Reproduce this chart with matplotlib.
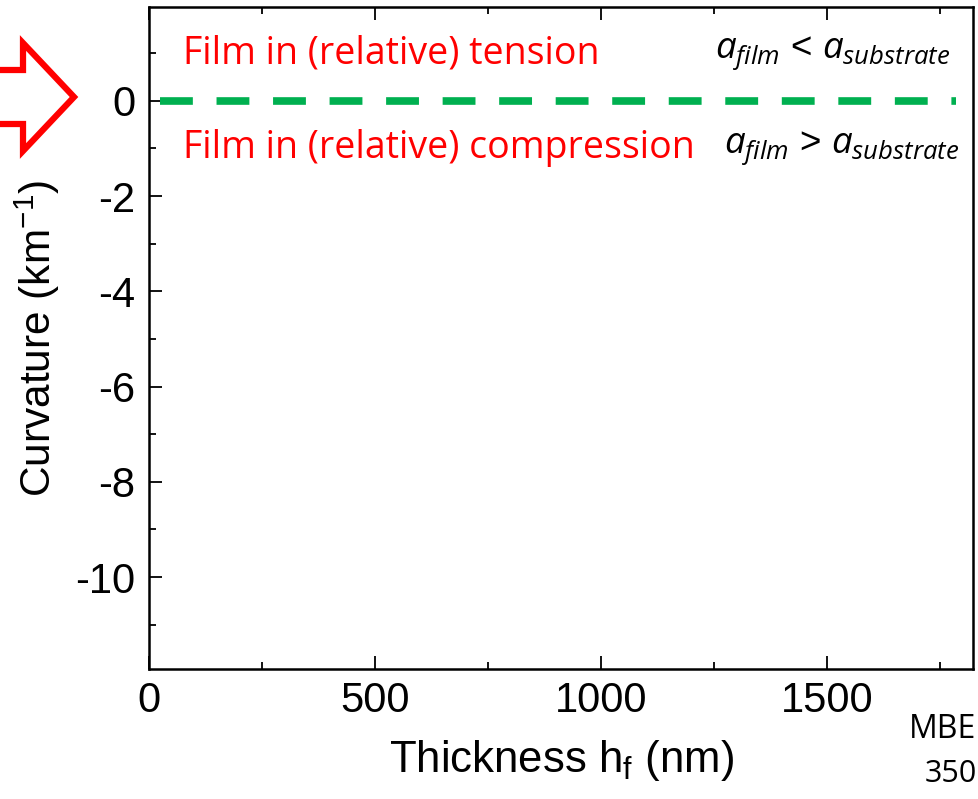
import matplotlib.pyplot as plt
from matplotlib.patches import Polygon
from matplotlib.ticker import MultipleLocator

# ---------------------------------------------------------
# data
# ---------------------------------------------------------
zero_x = [25, 1785]          # nm, extent of the zero-curvature line
zero_y = [0, 0]              # km^-1

x_ticks = [0, 500, 1000, 1500]
y_ticks = [0, -2, -4, -6, -8, -10]

region_labels = ["Film in (relative) tension", "Film in (relative) compression"]
region_y = [1.0, -1.0]
lattice_labels = [r"$a_{film}$ < $a_{substrate}$", r"$a_{film}$ > $a_{substrate}$"]

plt.rcParams['font.family'] = ['Liberation Sans', 'DejaVu Sans']
plt.rcParams['mathtext.fontset'] = 'custom'
plt.rcParams['mathtext.rm'] = 'Open Sans'
plt.rcParams['mathtext.it'] = 'Open Sans:italic'
plt.rcParams['mathtext.bf'] = 'Open Sans:bold'

W, H = 979, 799
fig = plt.figure(figsize=(W / 100, H / 100), dpi=100)
ax = fig.add_axes([149 / W, 1 - 669 / H, (973 - 149) / W, (669 - 7) / H])

ax.plot(zero_x, zero_y, color="#00B050", lw=5.5, ls=(0, (4.3, 3.1)), solid_capstyle="butt")

ax.set_xlim(0, 1823)
ax.set_ylim(-11.93, 1.97)
ax.set_xticks(x_ticks)
ax.set_yticks(y_ticks)
ax.set_yticklabels([str(v) for v in y_ticks])
ax.xaxis.set_minor_locator(MultipleLocator(250))
ax.yaxis.set_minor_locator(MultipleLocator(1))

ax.tick_params(which="both", direction="in", top=True, right=False, width=1.3, labelsize=30)
ax.tick_params(which="major", length=9.5)
ax.tick_params(which="minor", length=5)
ax.tick_params(axis="x", pad=9)
ax.tick_params(axis="y", pad=10)
for s in ax.spines.values():
    s.set_linewidth(1.8)

ax.set_xlabel(r"Thickness h$_\mathregular{f}$ (nm)", fontsize=31.5, labelpad=12)
ax.set_ylabel(r"Curvature (km$^\mathregular{-1}$)", fontsize=30.5, labelpad=9)

# region annotations
for lbl, yv in zip(region_labels, region_y):
    ax.text(75, yv, lbl, color="red", fontsize=27, family="Open Sans", va="center", ha="left")
for lbl, yv in zip(lattice_labels, region_y):
    ax.text(0.9725 if yv > 0 else 0.983, yv, lbl, transform=ax.get_yaxis_transform(),
            fontsize=26.5, va="center", ha="right")

# red block arrow pointing at zero
arrow_px = [(-10, 70), (23, 70), (23, 43), (74, 97), (23, 151), (23, 124), (-10, 124)]
arrow = Polygon([(x / W, 1 - y / H) for x, y in arrow_px], closed=True,
                transform=fig.transFigure, facecolor="white", edgecolor="red",
                lw=4.5, joinstyle="miter", clip_on=False)
fig.patches.append(arrow)

fig.text(909 / W, 1 - 730 / H, "MBE", fontsize=23, family="Open Sans", va="center", ha="left")
fig.text(925 / W, 1 - 774 / H, "350", fontsize=22, family="Open Sans", va="center", ha="left")

fig.savefig("out.png", dpi=100)
